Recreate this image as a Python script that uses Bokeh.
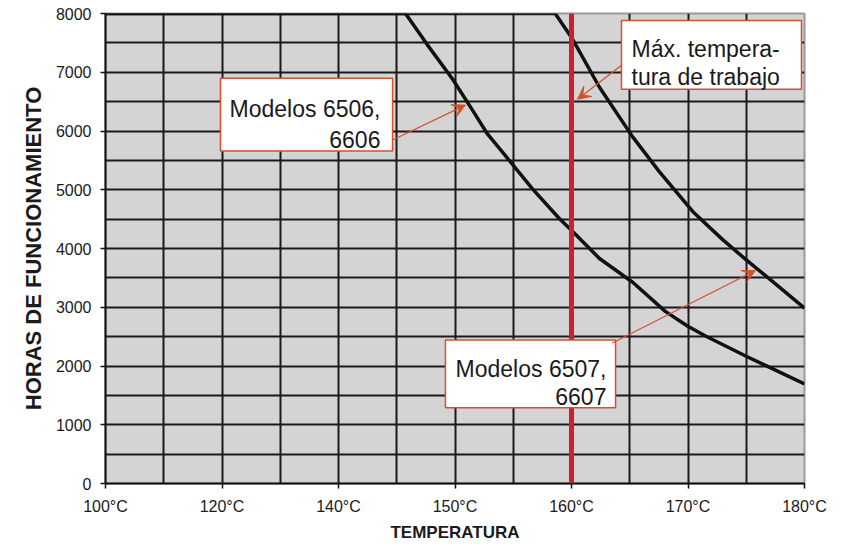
import numpy as np
from bokeh.plotting import figure
from bokeh.models import FixedTicker, Span, BoxAnnotation, Arrow, VeeHead, Label, Range1d
from bokeh.embed import file_html
from bokeh.resources import INLINE

# ---- data ----
tick_temps = [100, 120, 140, 150, 160, 170, 180]
tick_labels = ["100°C", "120°C", "140°C", "150°C", "160°C", "170°C", "180°C"]
y_ticks = [0, 1000, 2000, 3000, 4000, 5000, 6000, 7000, 8000]

# Modelos 6506, 6606
temp_a = [100, 145.75, 147.6, 149.8, 151.5, 152.8, 154.9, 156.65, 158.95, 160.1, 162.4,
          165.25, 168.05, 169.95, 171.5, 174.95, 180]
hours_a = [8000, 8000, 7475, 6880, 6355, 5945, 5440, 5015, 4510, 4290, 3830,
           3425, 2930, 2680, 2510, 2170, 1695]

# Modelos 6507, 6607
temp_b = [100, 158.6, 160.1, 162.4, 165.25, 167.55, 170.4, 172.95, 174.95, 177.25, 180]
hours_b = [8000, 8000, 7560, 6745, 5900, 5305, 4630, 4155, 3815, 3440, 2985]

max_work_temp = 160


def xpos(t):
    # non-uniform temperature axis: tick labels are equally spaced
    return np.interp(t, tick_temps, np.arange(len(tick_temps)))


FONT = "Liberation Sans"
RED = "#d4502e"
TXT = "#1a1a1a"

p = figure(width=851, height=544, x_range=Range1d(0, 6), y_range=Range1d(0, 8000),
           output_backend="svg", toolbar_location=None,
           min_border_left=105, min_border_right=47, min_border_top=13, min_border_bottom=59)

p.background_fill_color = "#d4d4d4"
p.border_fill_color = "white"
p.outline_line_color = "#9a9a9a"
p.outline_line_width = 2

# grids
p.xgrid.ticker = FixedTicker(ticks=[0.5 * i for i in range(1, 12)])
p.ygrid.ticker = FixedTicker(ticks=[500 * i for i in range(1, 16)])
for g in (p.xgrid, p.ygrid):
    g.grid_line_color = "#1a1a1a"
    g.grid_line_width = 2
    g.grid_line_alpha = 1

# axes
p.xaxis.ticker = FixedTicker(ticks=list(range(len(tick_temps))))
p.xaxis.major_label_overrides = {i: lab for i, lab in enumerate(tick_labels)}
p.yaxis.ticker = FixedTicker(ticks=y_ticks)
for ax in (p.xaxis, p.yaxis):
    ax.axis_line_color = "#111111"
    ax.axis_line_width = 2
    ax.major_tick_line_color = "#111111"
    ax.major_tick_line_width = 1.5
    ax.major_tick_out = 5
    ax.major_tick_in = 0
    ax.minor_tick_line_color = None
    ax.major_label_text_font = FONT
    ax.major_label_text_font_size = "16px"
    ax.major_label_text_color = TXT
    ax.axis_label_text_font = FONT
    ax.axis_label_text_font_style = "bold"
    ax.axis_label_text_color = TXT
p.xaxis.major_label_standoff = 9
p.yaxis.major_label_standoff = 9
p.xaxis.axis_label = "TEMPERATURA"
p.xaxis.axis_label_text_font_size = "17px"
p.xaxis.axis_label_standoff = 5
p.yaxis.axis_label = "HORAS DE FUNCIONAMIENTO"
p.yaxis.axis_label_text_font_size = "22px"
p.yaxis.axis_label_standoff = 7

# curves
p.line(xpos(temp_a), hours_a, line_width=3.5, line_color="#111111", line_join="round")
p.line(xpos(temp_b), hours_b, line_width=3.5, line_color="#111111", line_join="round")

# max working temperature
p.add_layout(Span(location=float(xpos(max_work_temp)), dimension="height",
                  line_color="#c9212f", line_width=5))

# annotation boxes
boxes = [
    (0.987, 2.464, 6898, 5661),
    (2.918, 4.378, 2441, 1288),
    (4.429, 5.974, 7881, 6712),
]
for l, r, t, b in boxes:
    p.add_layout(BoxAnnotation(left=l, right=r, top=t, bottom=b, fill_color="white",
                               fill_alpha=1, line_color=RED, line_width=1.5, line_alpha=1))

labels = [
    (2.36, 6373, "Modelos 6506,", "right"),
    (2.36, 5847, "6606", "right"),
    (4.30, 1949, "Modelos 6507,", "right"),
    (4.30, 1475, "6607", "right"),
    (4.515, 7390, "Máx. tempera-", "left"),
    (4.515, 6915, "tura de trabajo", "left"),
]
for x, y, txt, al in labels:
    p.add_layout(Label(x=x, y=y, text=txt, text_align=al, text_baseline="alphabetic",
                       text_font=FONT, text_font_size="23px", text_color=TXT))

arrows = [
    (2.464, 5847, 3.090, 6441),
    (4.35, 2390, 5.579, 3627),
    (4.429, 7118, 4.052, 6542),
]
for xs, ys, xe, ye in arrows:
    p.add_layout(Arrow(end=VeeHead(size=13, fill_color=RED, line_color=RED, line_width=1),
                       x_start=xs, y_start=ys, x_end=xe, y_end=ye,
                       line_color=RED, line_width=1.2))

open("out.html", "w").write(file_html(p, INLINE))
